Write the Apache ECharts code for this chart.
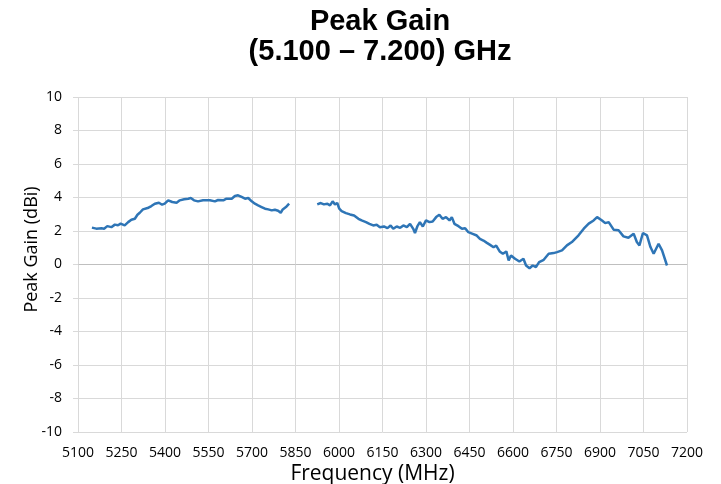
<!DOCTYPE html>
<html>
<head>
<meta charset="utf-8">
<script src="https://cdn.jsdelivr.net/npm/echarts@6/dist/echarts.min.js"></script>
<style>
  html, body { margin: 0; padding: 0; background: #fff; }
  #main { width: 721px; height: 484px; }
</style>
</head>
<body>
<div id="main"></div>
<script>
var freq = [
    5148, 5163, 5181, 5190, 5201, 5215, 5227, 5238, 5247, 5261, 5273, 5284, 5296, 5305, 5313, 5324,
    5340, 5353, 5365, 5379, 5390, 5399, 5411, 5425, 5440, 5451, 5466, 5480, 5489, 5500, 5514, 5531,
    5537, 5555, 5572, 5583, 5601, 5612, 5630, 5641, 5652, 5664, 5676, 5687, 5699, 5710, 5721, 5733,
    5745, 5756, 5768, 5779, 5790, 5799, 5806, 5817, 5828,
    5870,
    5925, 5937, 5948, 5960, 5969, 5978, 5986, 5994, 6001, 6009, 6024, 6038, 6052, 6067, 6078, 6093,
    6105, 6118, 6130, 6141, 6155, 6167, 6178, 6187, 6199, 6211, 6222, 6234, 6245, 6256, 6262, 6270,
    6279, 6289, 6300, 6312, 6323, 6335, 6346, 6357, 6369, 6381, 6389, 6398, 6412, 6424, 6435, 6446,
    6461, 6475, 6486, 6498, 6510, 6521, 6533, 6542, 6554, 6565, 6577, 6585, 6593, 6607, 6622, 6636,
    6645, 6657, 6668, 6679, 6690, 6706, 6723, 6740, 6752, 6769, 6786, 6803, 6826, 6844, 6861, 6878,
    6890, 6907, 6918, 6930, 6947, 6964, 6981, 6998, 7016, 7027, 7036, 7048, 7062, 7074, 7085, 7102,
    7114, 7131
];
var gain = [
    2.20, 2.14, 2.16, 2.14, 2.29, 2.23, 2.38, 2.34, 2.44, 2.34, 2.53, 2.67, 2.73, 2.97, 3.09, 3.29,
    3.37, 3.49, 3.63, 3.69, 3.57, 3.63, 3.83, 3.73, 3.69, 3.83, 3.89, 3.93, 3.97, 3.83, 3.77, 3.83,
    3.77, 3.83, 3.77, 3.85, 3.83, 3.93, 3.93, 4.09, 4.13, 4.03, 3.93, 3.97, 3.77, 3.63, 3.53, 3.43,
    3.33, 3.29, 3.23, 3.27, 3.21, 3.09, 3.29, 3.43, 3.63,
    null,
    3.59, 3.67, 3.59, 3.63, 3.53, 3.77, 3.59, 3.67, 3.33, 3.19, 3.07, 2.99, 2.93, 2.73, 2.63, 2.53,
    2.43, 2.33, 2.37, 2.23, 2.27, 2.17, 2.33, 2.13, 2.27, 2.19, 2.33, 2.23, 2.43, 2.13, 1.88, 2.27,
    2.53, 2.27, 2.63, 2.53, 2.57, 2.83, 2.97, 2.73, 2.83, 2.63, 2.83, 2.43, 2.29, 2.13, 2.17, 1.93,
    1.83, 1.73, 1.53, 1.43, 1.29, 1.17, 1.03, 1.13, 0.78, 0.64, 0.78, 0.24, 0.54, 0.34, 0.18, 0.34,
    -0.06, -0.22, -0.06, -0.16, 0.14, 0.28, 0.64, 0.68, 0.74, 0.84, 1.14, 1.34, 1.74, 2.14, 2.44, 2.63,
    2.83, 2.63, 2.47, 2.53, 2.08, 2.04, 1.68, 1.6, 1.84, 1.34, 1.14, 1.88, 1.74, 1.04, 0.64, 1.24,
    0.84, -0.06
];
var titleLines = ['Peak Gain', '(5.100 \u2013 7.200) GHz'];

var points = [];
for (var i = 0; i < freq.length; i++) {
    points.push([freq[i], gain[i]]);
}

var chart = echarts.init(document.getElementById('main'));
var option = {
    backgroundColor: '#ffffff',
    animation: false,
    title: {
        text: titleLines.join('\n'),
        left: 380,
        top: 7,
        padding: 0,
        textAlign: 'center',
        textStyle: {
            fontFamily: 'Liberation Sans',
            fontWeight: 'bold',
            fontSize: 29,
            lineHeight: 30,
            color: '#000'
        }
    },
    grid: {
        left: 78,
        right: 34,
        top: 97,
        bottom: 52,
        containLabel: false,
        outerBoundsMode: 'none'
    },
    xAxis: {
        type: 'value',
        min: 5100,
        max: 7200,
        interval: 150,
        name: 'Frequency (MHz)',
        nameLocation: 'middle',
        nameGap: 32,
        nameMoveOverlap: false,
        nameTextStyle: { fontFamily: 'Open Sans', fontSize: 21, color: '#000', padding: [0, 20, 0, 0] },
        axisLine: { show: true, lineStyle: { color: '#bfbfbf' } },
        axisTick: { show: true, length: 5, lineStyle: { color: '#d9d9d9' } },
        axisLabel: {
            fontFamily: 'Open Sans', fontSize: 14, color: '#000', margin: 14,
            formatter: function (v) { return String(v); }
        },
        splitLine: { show: true, lineStyle: { color: '#d9d9d9' } }
    },
    yAxis: {
        type: 'value',
        min: -10,
        max: 10,
        interval: 2,
        name: 'Peak Gain (dBi)',
        nameLocation: 'middle',
        nameGap: 37,
        nameMoveOverlap: false,
        nameTextStyle: { fontFamily: 'Open Sans', fontSize: 18, color: '#000', padding: [0, 0, 0, 30] },
        axisLine: { show: false },
        axisTick: { show: true, length: 5, lineStyle: { color: '#d9d9d9' } },
        axisLabel: { fontFamily: 'Open Sans', fontSize: 14, color: '#000', margin: 16 },
        splitLine: { show: true, lineStyle: { color: '#d9d9d9' } }
    },
    series: [{
        type: 'line',
        data: points,
        showSymbol: false,
        connectNulls: false,
        lineStyle: { color: '#2e75b6', width: 2.5 }
    }]
};
chart.setOption(option);
</script>
</body>
</html>
